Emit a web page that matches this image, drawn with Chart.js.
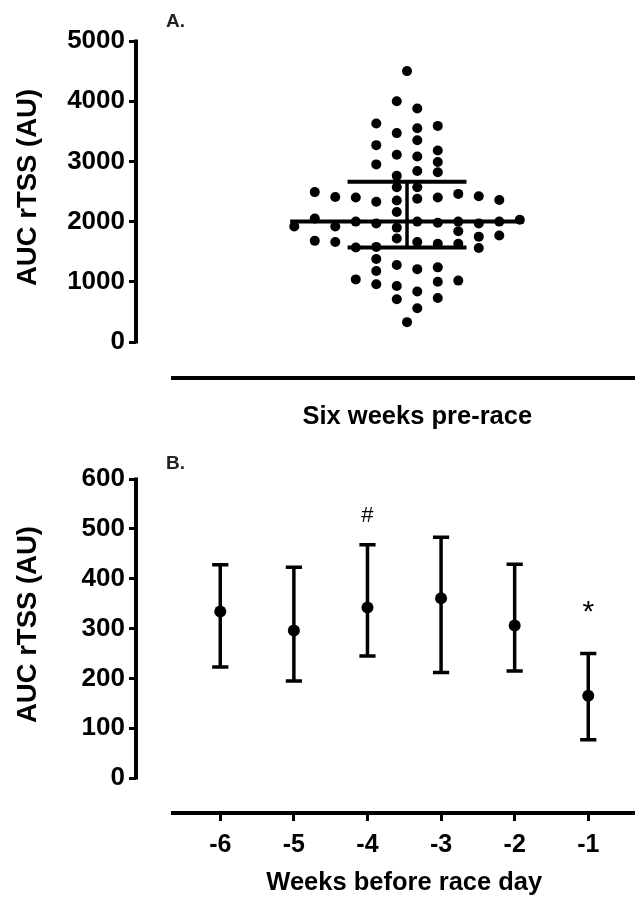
<!DOCTYPE html>
<html>
<head>
<meta charset="utf-8">
<script src="https://cdn.jsdelivr.net/npm/chart.js@4.4.0/dist/chart.umd.min.js"></script>
<style>
  html, body { margin: 0; padding: 0; background: #fff; }
  #wrap { position: relative; width: 635px; height: 897px; }
  .panel { position: absolute; left: 0; width: 635px; }
  #panelA { top: 0; height: 440px; }
  #panelB { top: 440px; height: 457px; }
</style>
</head>
<body>
<div id="wrap">
  <div class="panel" id="panelA"><canvas id="chartA" width="635" height="440"></canvas></div>
  <div class="panel" id="panelB"><canvas id="chartB" width="635" height="457"></canvas></div>
</div>
<script>
// --- panel A: AUC rTSS over the six weeks, one dot per athlete (column offset, value)
const dotColumn = [
  0, -0.5, 0.5, -1.5, 0.5, 1.5, -0.5, 0.5, -1.5, 1.5,
  -0.5, 0.5, -1.5, 1.5, 0.5, 1.5, -0.5, -0.5, 0.5,
  -4.5, -3.5, -2.5, -1.5, -0.5, 0.5, 1.5, 2.5, 3.5, 4.5,
  -0.5,
  -5.5, -4.5, -3.5, -2.5, -1.5, -0.5, 0.5, 1.5, 2.5, 3.5, 4.5, 5.5,
  -4.5, -3.5, 2.5, 3.5, 4.5, -0.5,
  -2.5, -1.5, 0.5, 1.5, 2.5, 3.5,
  -1.5, -0.5, 0.5, 1.5, -1.5,
  -2.5, -1.5, -0.5, 0.5, 1.5, 2.5,
  -0.5, 0.5, 1.5, 0
];
const dotValue = [
  4500, 4000, 3880, 3630, 3550, 3590, 3470, 3350, 3270, 3180,
  3110, 3080, 2950, 2990, 2840, 2820, 2760, 2570, 2570,
  2490, 2410, 2400, 2330, 2350, 2380, 2400, 2460, 2420, 2360,
  2160,
  1920, 2050, 1920, 2000, 1970, 1900, 2000, 1980, 2000, 1970, 2000, 2030,
  1680, 1660, 1840, 1750, 1770, 1720,
  1570, 1580, 1660, 1630, 1630, 1560,
  1380, 1280, 1210, 1240, 1180,
  1040, 960, 930, 840, 1000, 1020,
  710, 560, 730, 330
];
const summaryA = { mid: 2000, upper: 2660, lower: 1570 };
const yTicksA = [0, 500, 1000, 1500, 2000, 2500, 3000, 3500, 4000, 4500, 5000];

// --- panel B: weekly AUC rTSS, mean with error bars
const weeks = [-6, -5, -4, -3, -2, -1];
const weekMean = [334, 296, 342, 361, 306, 165];
const weekUpper = [428, 423, 468, 483, 429, 250];
const weekLower = [223, 195, 245, 212, 215, 77];
const weekMark = ['', '', '#', '', '', '*'];
const weekMarkY = [null, null, 525, null, null, 345];
const yTicksB = [0, 50, 100, 150, 200, 250, 300, 350, 400, 450, 500, 550, 600];

const FONT = '"Liberation Sans", Arial, Helvetica, sans-serif';

// Prism-like detached axes, titles and panel letter
const prismAxes = {
  id: 'prismAxes',
  afterDraw(chart, args, o) {
    const ctx = chart.ctx, ca = chart.chartArea;
    const x = chart.scales.x, y = chart.scales.y;
    const y0 = y.getPixelForValue(0), yTop = y.getPixelForValue(o.yMax);
    ctx.save();
    ctx.strokeStyle = '#000';
    ctx.lineWidth = 4;
    ctx.lineCap = 'butt';
    ctx.beginPath();
    ctx.moveTo(ca.left, y0 + 1.5);
    ctx.lineTo(ca.left, yTop - 1.5);
    ctx.stroke();
    ctx.beginPath();
    ctx.moveTo(ca.left + o.xGap, ca.bottom);
    ctx.lineTo(chart.width, ca.bottom);
    ctx.stroke();

    ctx.fillStyle = '#000';
    ctx.textAlign = 'center';
    ctx.textBaseline = 'middle';
    ctx.font = 'bold 27.5px ' + FONT;
    ctx.save();
    ctx.translate(o.yTitleX, (y0 + yTop) / 2 - 4);
    ctx.rotate(-Math.PI / 2);
    ctx.fillText(o.yTitle, 0, 0);
    ctx.restore();

    ctx.font = 'bold 25.5px ' + FONT;
    ctx.fillText(o.xTitle, x.getPixelForValue(o.xTitleAt), ca.bottom + o.xTitleOffset);

    // significance marks (asterisk glyph sits high, so it is drawn larger and lower)
    (o.marks || []).forEach(m => {
      if (!m.text) return;
      const size = m.text === '*' ? 30 : 22;
      const drop = m.text === '*' ? size * 0.22 : 0;
      ctx.font = size + 'px ' + FONT;
      ctx.fillText(m.text, x.getPixelForValue(m.x), y.getPixelForValue(m.y) + drop);
    });

    ctx.fillStyle = '#222';
    ctx.textAlign = 'left';
    ctx.font = 'bold 19px ' + FONT;
    ctx.fillText(o.letter, ca.left + 30, o.letterY);
    ctx.restore();
  }
};

function yScale(min, max, ticks, major) {
  return {
    min: min, max: max,
    afterBuildTicks: s => { s.ticks = ticks.map(v => ({ value: v })); },
    afterFit: s => { s.width = 136; },
    border: { display: false },
    grid: { display: true, drawOnChartArea: false, drawTicks: true, tickLength: 7, color: '#000', lineWidth: 3 },
    ticks: {
      color: '#000', padding: 4,
      font: { family: FONT, size: 26, weight: 'bold' },
      callback: v => (v % major === 0 ? String(v) : '')
    }
  };
}

// panel A datasets
const dots = dotColumn.map((c, i) => ({ x: c, y: dotValue[i] }));
const MEAN_HALF = 5.7, BAR_HALF = 2.9;
const hLines = [
  { x: -MEAN_HALF, y: summaryA.mid }, { x: MEAN_HALF, y: summaryA.mid }, { x: 0, y: null },
  { x: -BAR_HALF, y: summaryA.upper }, { x: BAR_HALF, y: summaryA.upper }, { x: 0, y: null },
  { x: -BAR_HALF, y: summaryA.lower }, { x: BAR_HALF, y: summaryA.lower }
];
const vLine = [{ x: 0, y: summaryA.lower }, { x: 0, y: summaryA.upper }];

new Chart(document.getElementById('chartA'), {
  type: 'scatter',
  data: {
    datasets: [
      { type: 'line', data: hLines, borderColor: '#000', borderWidth: 4, pointRadius: 0, spanGaps: false, fill: false },
      { type: 'line', data: vLine, borderColor: '#000', borderWidth: 3.5, pointRadius: 0, fill: false },
      { data: dots, pointRadius: 5, backgroundColor: '#000', borderWidth: 0 }
    ]
  },
  options: {
    responsive: false, animation: false, events: [],
    layout: { autoPadding: false, padding: { top: 41, left: 0, right: 0, bottom: 0 } },
    plugins: {
      legend: { display: false }, tooltip: { enabled: false },
      prismAxes: {
        yMax: 5000, xGap: 35, yTitle: 'AUC rTSS (AU)', yTitleX: 28,
        xTitle: 'Six weeks pre-race', xTitleAt: 0.5, xTitleOffset: 39,
        letter: 'A.', letterY: 22
      }
    },
    scales: {
      x: {
        type: 'linear', min: -13.22, max: 11.12,
        grid: { display: false }, border: { display: false }, ticks: { display: false },
        afterFit: s => { s.height = 62; }
      },
      y: yScale(-598, 5000, yTicksA, 1000)
    }
  },
  plugins: [prismAxes]
});

// panel B datasets
const CAP_HALF = 0.11;
const stems = [], caps = [];
weeks.forEach((w, i) => {
  stems.push({ x: w, y: weekLower[i] }, { x: w, y: weekUpper[i] }, { x: w, y: null });
  caps.push({ x: w - CAP_HALF, y: weekUpper[i] }, { x: w + CAP_HALF, y: weekUpper[i] }, { x: w, y: null });
  caps.push({ x: w - CAP_HALF, y: weekLower[i] }, { x: w + CAP_HALF, y: weekLower[i] }, { x: w, y: null });
});
const means = weeks.map((w, i) => ({ x: w, y: weekMean[i] }));
const marks = weeks.map((w, i) => ({ x: w, y: weekMarkY[i], text: weekMark[i] }));

new Chart(document.getElementById('chartB'), {
  type: 'scatter',
  data: {
    datasets: [
      { data: means, pointRadius: 6, backgroundColor: '#000', borderWidth: 0 },
      { type: 'line', data: stems, borderColor: '#000', borderWidth: 3.5, pointRadius: 0, spanGaps: false, fill: false },
      { type: 'line', data: caps, borderColor: '#000', borderWidth: 3.5, pointRadius: 0, spanGaps: false, fill: false }
    ]
  },
  options: {
    responsive: false, animation: false, events: [],
    layout: { autoPadding: false, padding: { top: 39, left: 0, right: 0, bottom: 0 } },
    plugins: {
      legend: { display: false }, tooltip: { enabled: false },
      prismAxes: {
        yMax: 600, xGap: 35, yTitle: 'AUC rTSS (AU)', yTitleX: 28,
        xTitle: 'Weeks before race day', xTitleAt: -3.5, xTitleOffset: 70,
        letter: 'B.', letterY: 24, marks: marks
      }
    },
    scales: {
      x: {
        type: 'linear', min: -7.145, max: -0.365,
        afterBuildTicks: s => { s.ticks = weeks.map(v => ({ value: v })); },
        afterFit: s => { s.height = 84; },
        border: { display: false },
        grid: { display: true, drawOnChartArea: false, drawTicks: true, tickLength: 8, color: '#000', lineWidth: 3 },
        ticks: {
          color: '#000', padding: 9, maxRotation: 0,
          font: { family: FONT, size: 25, weight: 'bold' },
          callback: v => String(v)
        }
      },
      y: yScale(-70, 600, yTicksB, 100)
    }
  },
  plugins: [prismAxes]
});
</script>
</body>
</html>
